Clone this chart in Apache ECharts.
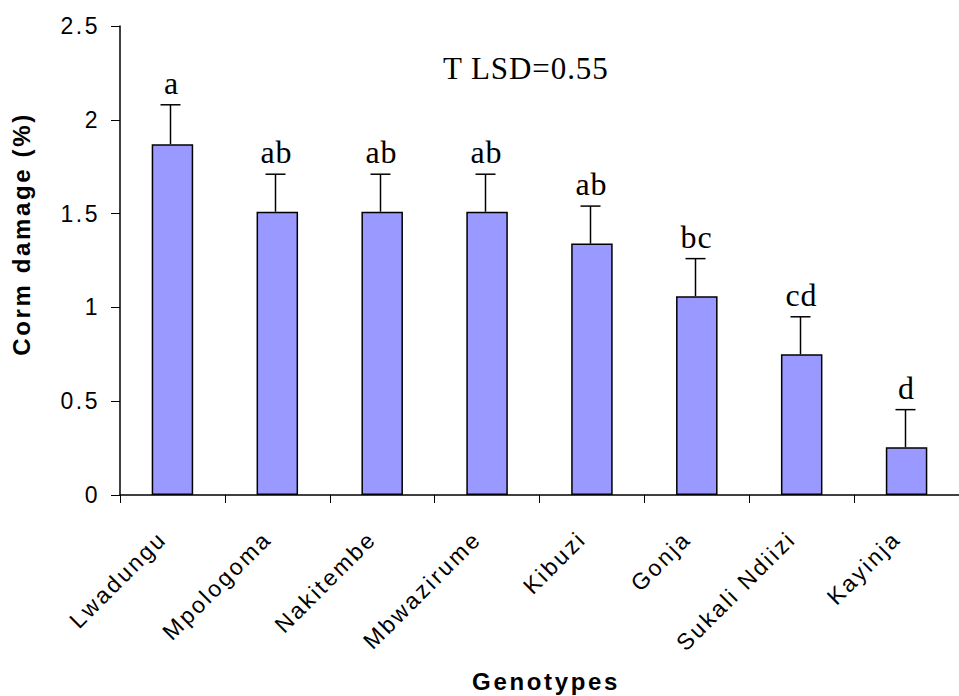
<!DOCTYPE html>
<html><head><meta charset="utf-8">
<script src="https://cdn.jsdelivr.net/npm/echarts@6/dist/echarts.min.js"></script>
<style>
html,body{margin:0;padding:0;background:#fff}
#c{width:959px;height:696px}
#c text{letter-spacing:0.11em}
#c text[style*="Serif"], #c text[font-family*="Serif"]{letter-spacing:0.03em}
</style>
</head><body><div id="c"></div>
<script>
var categories = ['Lwadungu','Mpologoma','Nakitembe','Mbwazirume','Kibuzi','Gonja','Sukali Ndiizi','Kayinja'];
var values = [1.87, 1.51, 1.51, 1.51, 1.34, 1.06, 0.75, 0.255];
var errors = [0.21, 0.2, 0.2, 0.2, 0.2, 0.2, 0.2, 0.2];
var letters = ['a','ab','ab','ab','ab','bc','cd','d'];
var yTicks = [0, 0.5, 1, 1.5, 2, 2.5];

var SANS = '"Liberation Sans", Arial, sans-serif';
var SERIF = '"Liberation Serif", "Times New Roman", serif';

var chart = echarts.init(document.getElementById('c'), null, {renderer:'svg'});
var errData = categories.map(function(c,i){ return [i, values[i], values[i]+errors[i]]; });
chart.setOption({
  animation:false,
  grid:{left:120, top:26, width:847, height:469, containLabel:false},
  xAxis:{type:'category', data:categories, boundaryGap:true,
    axisLine:{lineStyle:{color:'#000', width:1.5}},
    axisTick:{show:true, length:8, lineStyle:{color:'#000'}},
    axisLabel:{rotate:45, color:'#000', fontFamily:SANS, fontSize:23, margin:30, interval:0, padding:[0,14,0,0]}
  },
  yAxis:{type:'value', min:0, max:2.5, interval:0.5,
    axisLine:{show:true, lineStyle:{color:'#000', width:1.5}},
    axisTick:{show:true, length:9, lineStyle:{color:'#000'}},
    splitLine:{show:false},
    axisLabel:{color:'#000', fontFamily:SANS, fontSize:23, margin:20,
      formatter:function(v){ return yTicks.indexOf(v)>=0 ? String(v) : ''; }}
  },
  series:[
    {type:'bar', data:values, barWidth:41.5,
      itemStyle:{color:'#9999FF', borderColor:'#000', borderWidth:1.5}},
    {type:'custom', data:errData, z:5,
      renderItem:function(params, api){
        var base = api.coord([api.value(0), api.value(1)]);
        var top = api.coord([api.value(0), api.value(2)]);
        var cx = Math.round(base[0]) - 1.5;
        return {type:'group', children:[
          {type:'line', shape:{x1:cx, y1:base[1], x2:cx, y2:top[1]}, style:{stroke:'#000', lineWidth:1.5}},
          {type:'line', shape:{x1:cx-10, y1:top[1], x2:cx+10, y2:top[1]}, style:{stroke:'#000', lineWidth:1.5}},
          {type:'text', style:{text:letters[params.dataIndex], x:cx+1, y:top[1]-6, align:'center', verticalAlign:'bottom',
            font:'32px ' + SERIF, fill:'#000'}}
        ]};
      }
    }
  ],
  graphic:[
    {type:'text', x:443, y:68, style:{text:'T LSD=0.55', align:'left', verticalAlign:'middle', font:'31px ' + SERIF, fill:'#000'}},
    {type:'text', x:546, y:681, style:{text:'Genotypes', align:'center', verticalAlign:'middle', font:'bold 24px ' + SANS, fill:'#000'}},
    {type:'text', x:21, y:234, rotation:Math.PI/2, style:{text:'Corm damage (%)', align:'center', verticalAlign:'middle',
      font:'bold 24px ' + SANS, fill:'#000'}}
  ]
});
</script></body></html>
